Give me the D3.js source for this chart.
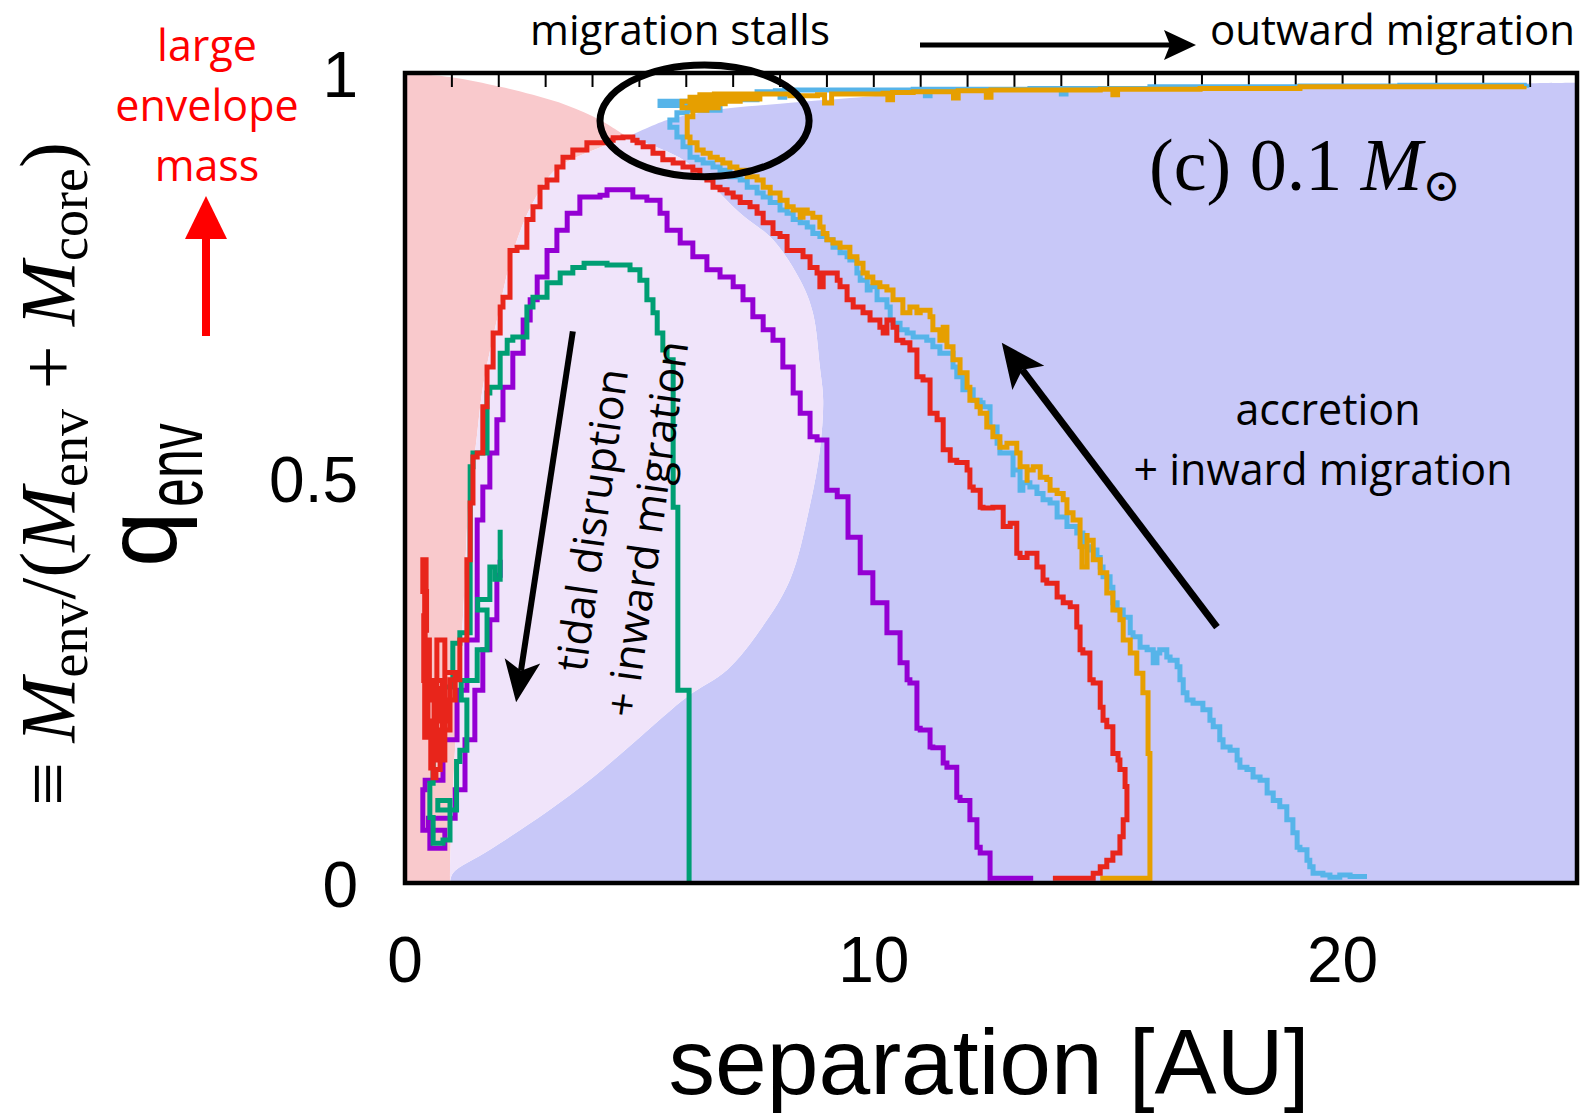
<!DOCTYPE html>
<html>
<head>
<meta charset="utf-8">
<script src="https://cdn.jsdelivr.net/npm/d3@7"></script>
<style>
  body { margin: 0; background: #fff; }
  svg { display: block; }
</style>
</head>
<body>
<svg id="chart" width="1595" height="1117"></svg>
<script>
// ---- axes -------------------------------------------------------------
const xDomain = [0, 25];
const yDomain = [0, 1];
const xTickValues = [0, 10, 20];
const xTickLabels = ["0", "10", "20"];
const yTickValues = [0, 0.5, 1];
const yTickLabels = ["0", "0.5", "1"];
const topTickValues = [1, 2, 3, 4, 5, 6, 7, 8, 9, 10, 11, 12, 13, 14, 15, 16, 17, 18, 19, 20, 21, 22, 23, 24];

// ---- background regions: boundaries in [separation AU, q_env] ------------
// upper edge of the tidally limited (pink) zone
const pinkTopEdge = [[0, 1], [0.96, 0.995], [2.03, 0.983], [2.73, 0.973], [3.46, 0.960], [4.16, 0.942], [4.74, 0.921]];
// boundary between pink zone and the light lavender bubble
const lavenderLeftEdge = [[4.74, 0.921], [4.16, 0.908], [3.24, 0.882], [2.73, 0.840], [2.30, 0.778], [1.96, 0.695], [1.66, 0.612], [1.49, 0.531], [1.39, 0.498], [1.24, 0.333], [1.07, 0.168], [1.00, 0.086], [0.96, 0.016], [0.96, 0]];
// boundary between lavender bubble and the accretion (blue) zone
const lavenderRightEdge = [[4.74, 0.921], [5.93, 0.893], [7.15, 0.827], [7.85, 0.794], [8.43, 0.744], [8.70, 0.704], [8.85, 0.637], [8.92, 0.596], [8.85, 0.535], [8.64, 0.467], [8.21, 0.374], [7.57, 0.312], [6.87, 0.263], [6.02, 0.230], [5.01, 0.180], [4.00, 0.130], [3.03, 0.088], [1.81, 0.041], [1.02, 0.012], [0.96, 0]];
// upper edge of the accretion zone
const blueTopEdge = [[4.74, 0.921], [5.59, 0.942], [6.29, 0.951], [7.00, 0.957], [8.00, 0.962], [9.49, 0.969], [10.84, 0.975], [13.33, 0.980], [16.96, 0.984], [21.22, 0.986], [25, 0.988]];

// ---- planet tracks [separation AU, q_env] --------------------------------
const greenTrack = [[6.06, 0], [6.06, 0.238], [5.82, 0.238], [5.82, 0.464], [5.72, 0.464], [5.72, 0.646], [5.59, 0.658], [5.50, 0.679], [5.38, 0.704], [5.29, 0.720], [5.16, 0.744], [5.01, 0.757], [4.80, 0.763], [4.31, 0.765], [3.82, 0.760], [3.58, 0.753], [3.31, 0.741], [3.03, 0.723], [2.73, 0.711], [2.60, 0.674], [2.30, 0.670], [2.18, 0.654], [2.03, 0.612], [1.81, 0.605], [1.75, 0.531], [1.45, 0.514], [1.39, 0.473], [1.39, 0.309], [1.17, 0.296], [1.02, 0.242], [0.81, 0.185], [0.60, 0.123], [0.53, 0.081], [0.60, 0.049], [0.81, 0.053], [0.96, 0.102], [0.70, 0.090], [1.10, 0.150], [1.17, 0.164], [1.32, 0.226], [1.20, 0.250], [1.54, 0.288], [1.75, 0.337], [1.55, 0.350], [1.81, 0.390], [1.92, 0.375], [2.03, 0.436]];

const purpleTrack = [[13.40, 0.006], [12.54, 0.006], [12.48, 0.037], [12.27, 0.044], [12.20, 0.078], [12.05, 0.102], [11.84, 0.106], [11.77, 0.143], [11.56, 0.148], [11.48, 0.167], [11.26, 0.168], [11.20, 0.189], [10.99, 0.191], [10.92, 0.247], [10.77, 0.251], [10.71, 0.272], [10.56, 0.275], [10.56, 0.309], [10.28, 0.346], [9.98, 0.383], [9.71, 0.427], [9.45, 0.477], [9.22, 0.485], [9.00, 0.547], [8.79, 0.551], [8.64, 0.580], [8.43, 0.605], [8.28, 0.637], [8.06, 0.670], [7.85, 0.683], [7.64, 0.699], [7.42, 0.720], [7.21, 0.736], [7.00, 0.748], [6.72, 0.757], [6.44, 0.773], [6.14, 0.790], [5.87, 0.806], [5.59, 0.827], [5.44, 0.843], [5.16, 0.847], [4.86, 0.856], [4.59, 0.856], [4.31, 0.849], [4.16, 0.847], [3.73, 0.827], [3.46, 0.806], [3.24, 0.781], [3.03, 0.748], [2.82, 0.720], [2.67, 0.695], [2.52, 0.654], [2.30, 0.612], [2.09, 0.572], [1.96, 0.531], [1.81, 0.489], [1.66, 0.448], [1.54, 0.390], [1.54, 0.300], [1.32, 0.238], [1.11, 0.177], [0.81, 0.127], [0.43, 0.115], [0.38, 0.065], [0.53, 0.043], [0.85, 0.065], [0.50, 0.080], [1.07, 0.115], [1.28, 0.177], [1.49, 0.238], [1.66, 0.288], [1.81, 0.325], [1.96, 0.380], [2.03, 0.399]];

const redTrack = [[13.82, 0.006], [14.61, 0.006], [14.68, 0.012], [14.83, 0.020], [14.97, 0.028], [15.10, 0.037], [15.25, 0.057], [15.32, 0.078], [15.40, 0.119], [15.36, 0.140], [15.25, 0.152], [15.21, 0.160], [15.10, 0.193], [14.97, 0.201], [14.89, 0.217], [14.83, 0.247], [14.68, 0.251], [14.61, 0.284], [14.46, 0.288], [14.40, 0.316], [14.33, 0.341], [14.19, 0.346], [14.04, 0.353], [13.91, 0.370], [13.69, 0.374], [13.61, 0.390], [13.48, 0.407], [13.27, 0.402], [13.12, 0.407], [13.05, 0.444], [12.91, 0.440], [12.76, 0.464], [12.54, 0.463], [12.33, 0.464], [12.27, 0.485], [12.12, 0.489], [12.05, 0.510], [11.99, 0.519], [11.77, 0.522], [11.63, 0.535], [11.48, 0.538], [11.48, 0.572], [11.35, 0.580], [11.20, 0.621], [11.05, 0.625], [10.92, 0.658], [10.77, 0.667], [10.62, 0.670], [10.49, 0.686], [10.41, 0.695], [10.28, 0.679], [10.20, 0.686], [10.13, 0.695], [9.92, 0.704], [9.77, 0.711], [9.56, 0.720], [9.43, 0.736], [9.28, 0.744], [9.22, 0.753], [9.00, 0.753], [8.92, 0.736], [8.85, 0.753], [8.79, 0.760], [8.64, 0.773], [8.49, 0.781], [8.36, 0.781], [8.15, 0.798], [8.00, 0.802], [7.85, 0.815], [7.72, 0.815], [7.64, 0.827], [7.51, 0.835], [7.36, 0.840], [7.15, 0.847], [7.00, 0.852], [6.87, 0.856], [6.72, 0.859], [6.57, 0.868], [6.44, 0.872], [6.29, 0.880], [6.14, 0.884], [5.93, 0.889], [5.72, 0.893], [5.50, 0.901], [5.29, 0.909], [5.08, 0.914], [4.95, 0.917], [4.86, 0.921], [4.65, 0.920], [4.44, 0.917], [4.31, 0.914], [3.88, 0.905], [3.58, 0.896], [3.37, 0.884], [3.24, 0.868], [3.03, 0.859], [2.88, 0.835], [2.73, 0.819], [2.60, 0.785], [2.39, 0.781], [2.24, 0.723], [2.09, 0.711], [2.03, 0.679], [1.88, 0.637], [1.75, 0.588], [1.66, 0.531], [1.54, 0.526], [1.45, 0.469], [1.39, 0.399], [1.32, 0.300], [1.17, 0.251], [0.96, 0.189], [0.75, 0.140], [0.66, 0.130], [0.60, 0.180], [0.72, 0.160], [0.62, 0.250], [0.80, 0.170], [0.68, 0.300], [0.85, 0.240], [0.75, 0.200], [0.92, 0.226], [1.07, 0.260], [0.90, 0.260], [0.85, 0.152], [0.70, 0.170], [0.58, 0.142], [0.55, 0.200], [0.49, 0.226], [0.52, 0.300], [0.43, 0.312], [0.46, 0.360], [0.38, 0.399], [0.45, 0.330], [0.40, 0.250], [0.48, 0.180], [0.42, 0.400]];

const orangeTrack = [[14.83, 0.006], [15.83, 0.006], [15.89, 0.020], [15.89, 0.160], [15.85, 0.235], [15.74, 0.259], [15.61, 0.284], [15.47, 0.300], [15.32, 0.325], [15.25, 0.337], [15.10, 0.358], [14.97, 0.383], [14.83, 0.399], [14.68, 0.423], [14.55, 0.432], [14.55, 0.390], [14.44, 0.415], [14.40, 0.448], [14.25, 0.457], [14.12, 0.473], [14.04, 0.481], [13.91, 0.485], [13.76, 0.498], [13.69, 0.501], [13.55, 0.514], [13.40, 0.510], [13.27, 0.494], [13.27, 0.514], [13.12, 0.531], [13.05, 0.543], [12.84, 0.538], [12.69, 0.551], [12.54, 0.563], [12.41, 0.580], [12.27, 0.588], [12.20, 0.596], [12.05, 0.612], [11.99, 0.630], [11.84, 0.646], [11.69, 0.662], [11.56, 0.686], [11.48, 0.670], [11.41, 0.683], [11.26, 0.699], [11.20, 0.707], [10.99, 0.704], [10.92, 0.711], [10.77, 0.704], [10.62, 0.720], [10.41, 0.732], [10.28, 0.736], [10.13, 0.741], [9.98, 0.748], [9.86, 0.753], [9.77, 0.765], [9.64, 0.773], [9.49, 0.785], [9.28, 0.790], [9.13, 0.794], [9.00, 0.802], [8.92, 0.810], [8.85, 0.822], [8.70, 0.827], [8.58, 0.831], [8.49, 0.822], [8.43, 0.831], [8.28, 0.835], [8.15, 0.843], [8.00, 0.852], [7.79, 0.859], [7.64, 0.868], [7.51, 0.872], [7.30, 0.880], [7.08, 0.884], [6.93, 0.889], [6.78, 0.893], [6.66, 0.896], [6.51, 0.901], [6.36, 0.905], [6.23, 0.914], [6.08, 0.921], [6.02, 0.933], [6.02, 0.946], [6.14, 0.954], [6.44, 0.958], [6.68, 0.957], [5.91, 0.965], [6.83, 0.962], [6.08, 0.970], [7.15, 0.965], [6.29, 0.973], [7.57, 0.968], [6.60, 0.974], [8.21, 0.972], [8.80, 0.973], [8.95, 0.963], [9.10, 0.974], [9.49, 0.974], [10.20, 0.975], [10.30, 0.967], [10.40, 0.976], [10.84, 0.977], [11.60, 0.977], [11.70, 0.969], [11.80, 0.978], [12.30, 0.978], [12.40, 0.970], [12.50, 0.979], [13.33, 0.979], [14.83, 0.980], [15.10, 0.973], [15.20, 0.980], [16.96, 0.981], [19.09, 0.983], [21.22, 0.983], [23.87, 0.984]];

const cyanTrack = [[20.52, 0.008], [20.16, 0.010], [19.94, 0.007], [19.73, 0.010], [19.58, 0.012], [19.37, 0.020], [19.30, 0.028], [19.24, 0.041], [19.09, 0.044], [19.03, 0.062], [18.94, 0.078], [18.81, 0.094], [18.66, 0.102], [18.52, 0.111], [18.39, 0.127], [18.24, 0.131], [18.09, 0.140], [17.96, 0.143], [17.81, 0.152], [17.75, 0.164], [17.60, 0.168], [17.45, 0.177], [17.38, 0.193], [17.24, 0.201], [17.17, 0.214], [17.02, 0.222], [16.81, 0.226], [16.68, 0.235], [16.60, 0.251], [16.53, 0.267], [16.47, 0.275], [16.32, 0.279], [16.25, 0.288], [16.10, 0.284], [16.04, 0.272], [15.96, 0.288], [15.83, 0.291], [15.68, 0.304], [15.53, 0.309], [15.47, 0.328], [15.32, 0.337], [15.19, 0.346], [15.10, 0.365], [15.04, 0.378], [14.89, 0.390], [14.83, 0.402], [14.76, 0.411], [14.61, 0.415], [14.46, 0.432], [14.33, 0.440], [14.19, 0.440], [14.12, 0.452], [13.97, 0.452], [13.91, 0.469], [13.76, 0.473], [13.61, 0.481], [13.48, 0.489], [13.33, 0.494], [13.18, 0.485], [13.12, 0.510], [12.97, 0.501], [12.97, 0.531], [12.84, 0.531], [12.69, 0.543], [12.63, 0.563], [12.48, 0.588], [12.33, 0.593], [12.27, 0.596], [12.12, 0.609], [11.99, 0.609], [11.90, 0.625], [11.77, 0.637], [11.69, 0.654], [11.56, 0.654], [11.41, 0.662], [11.26, 0.670], [11.13, 0.674], [10.99, 0.674], [10.84, 0.679], [10.71, 0.683], [10.56, 0.691], [10.41, 0.695], [10.35, 0.711], [10.28, 0.720], [10.13, 0.720], [10.07, 0.736], [9.92, 0.732], [9.86, 0.744], [9.71, 0.753], [9.64, 0.769], [9.49, 0.773], [9.43, 0.778], [9.28, 0.785], [9.13, 0.794], [9.00, 0.798], [8.85, 0.802], [8.70, 0.810], [8.58, 0.815], [8.43, 0.819], [8.28, 0.827], [8.15, 0.831], [8.00, 0.840], [7.79, 0.847], [7.64, 0.852], [7.51, 0.859], [7.30, 0.868], [7.15, 0.872], [6.93, 0.880], [6.72, 0.884], [6.57, 0.889], [6.36, 0.893], [6.23, 0.896], [6.08, 0.909], [5.93, 0.921], [5.80, 0.933], [5.65, 0.942], [5.80, 0.951], [6.02, 0.954], [6.72, 0.960], [5.44, 0.965], [6.29, 0.967], [7.51, 0.977], [7.90, 0.978], [8.00, 0.970], [8.10, 0.979], [8.36, 0.979], [9.49, 0.979], [10.84, 0.980], [11.10, 0.972], [11.20, 0.980], [13.33, 0.981], [14.00, 0.974], [14.10, 0.981], [15.89, 0.983], [19.09, 0.984], [21.22, 0.985], [23.93, 0.986]];

const tracks = [
  { name: "purple", data: purpleTrack, color: "#9400d3" },
  { name: "green",  data: greenTrack,  color: "#009e73" },
  { name: "cyan",   data: cyanTrack,   color: "#56b4e9" },
  { name: "orange", data: orangeTrack, color: "#e69f00" },
  { name: "red",    data: redTrack,    color: "#e8251b" }
];

// ---- layout ---------------------------------------------------------------
const svg = d3.select("#chart");
const plot = { left: 405, top: 73, right: 1577, bottom: 883 };
const x = d3.scaleLinear().domain(xDomain).range([plot.left, plot.right]);
const y = d3.scaleLinear().domain(yDomain).range([plot.bottom, plot.top]);

svg.append("defs").append("clipPath").attr("id", "plotClip")
  .append("rect")
  .attr("x", plot.left).attr("y", plot.top)
  .attr("width", plot.right - plot.left).attr("height", plot.bottom - plot.top);

const area = svg.append("g").attr("clip-path", "url(#plotClip)");

// smooth boundary edges, joined into closed outlines with sharp corners
const smoothEdge = d3.line().x(d => x(d[0])).y(d => y(d[1])).curve(d3.curveCatmullRom.alpha(0.5));
const edge = (pts, first) => first ? smoothEdge(pts) : smoothEdge(pts).replace(/^M/, "L");
const rev = a => a.slice().reverse();

const blueD = edge(blueTopEdge, true) + `L${x(25)},${y(0)}` + edge(rev(lavenderRightEdge)) + "Z";
const pinkD = `M${x(0)},${y(0)}` + edge(pinkTopEdge) + edge(lavenderLeftEdge) + "Z";
const lavenderD = edge(lavenderLeftEdge, true) + edge(rev(lavenderRightEdge)) + "Z";

area.append("path").attr("d", blueD).attr("fill", "#c8c8f8");
area.append("path").attr("d", pinkD).attr("fill", "#f9c9cc");
area.append("path").attr("d", lavenderD).attr("fill", "#f0e4fa");

// minor ticks along the top edge
area.selectAll("line.topTick").data(topTickValues).join("line")
  .attr("class", "topTick")
  .attr("x1", d => x(d)).attr("x2", d => x(d))
  .attr("y1", plot.top).attr("y2", plot.top + 14)
  .attr("stroke", "#000").attr("stroke-width", 2);

// planet tracks
const trackLine = d3.line().x(d => x(d[0])).y(d => y(d[1])).curve(d3.curveStepAfter);
area.selectAll("path.track").data(tracks).join("path")
  .attr("class", "track")
  .attr("d", d => trackLine(d.data))
  .attr("fill", "none")
  .attr("stroke", d => d.color)
  .attr("stroke-width", 5)
  .attr("stroke-linejoin", "miter");

// "migration stalls" ellipse
svg.append("ellipse")
  .attr("cx", x(6.39)).attr("cy", y(0.941))
  .attr("rx", x(2.23) - x(0)).attr("ry", y(0) - y(0.069))
  .attr("fill", "none").attr("stroke", "#000").attr("stroke-width", 7);

// frame
svg.append("rect")
  .attr("x", plot.left).attr("y", plot.top)
  .attr("width", plot.right - plot.left).attr("height", plot.bottom - plot.top)
  .attr("fill", "none").attr("stroke", "#000").attr("stroke-width", 4.5);

// tick labels
const tickFont = "'Liberation Sans', Arial, sans-serif";
svg.selectAll("text.xtick").data(xTickValues).join("text")
  .attr("class", "xtick")
  .attr("x", d => x(d)).attr("y", 982)
  .attr("text-anchor", "middle")
  .attr("font-family", tickFont).attr("font-size", 64)
  .text((d, i) => xTickLabels[i]);

svg.selectAll("text.ytick").data(yTickValues).join("text")
  .attr("class", "ytick")
  .attr("x", 358).attr("y", d => y(d) + 24)
  .attr("text-anchor", "end")
  .attr("font-family", tickFont).attr("font-size", 64)
  .text((d, i) => yTickLabels[i]);

// axis titles
svg.append("text")
  .attr("x", 989).attr("y", 1094)
  .attr("text-anchor", "middle")
  .attr("font-family", tickFont).attr("font-size", 93)
  .text("separation [AU]");

svg.append("text")
  .attr("transform", "translate(176,567) rotate(-90)")
  .attr("font-family", tickFont).attr("font-size", 100)
  .text("q");
svg.append("text")
  .attr("transform", "translate(202,507) rotate(-90) scale(0.65,1)")
  .attr("font-family", tickFont).attr("font-size", 80)
  .text("env");

function addRuns(sel, runs) {
  runs.forEach(r => {
    const t = sel.append("tspan").text(r.t);
    if (r.italic) t.attr("font-style", "italic");
    if (r.size) t.attr("font-size", r.size);
    if (r.dy) t.attr("dy", r.dy);
  });
}

const serif = "'Liberation Serif', 'DejaVu Serif', serif";
const yDef = svg.append("text")
  .attr("transform", "translate(74,474) rotate(-90)")
  .attr("text-anchor", "middle")
  .attr("font-family", serif).attr("font-size", 78);
addRuns(yDef, [
  { t: "\u2261 " }, { t: "M", italic: true }, { t: "env", size: 54, dy: 13 },
  { t: "/(", dy: -13 }, { t: "M", italic: true }, { t: "env", size: 54, dy: 13 },
  { t: " + ", dy: -13 }, { t: "M", italic: true }, { t: "core", size: 54, dy: 13 },
  { t: ")", dy: -13 }
]);

// panel label
const panel = svg.append("text")
  .attr("x", 1149).attr("y", 190)
  .attr("font-family", serif).attr("font-size", 74);
addRuns(panel, [
  { t: "(c) 0.1 " }, { t: "M", italic: true }, { t: "\u2299", size: 46, dy: 11 }
]);

// annotations
const sansAnno = "'Open Sans', sans-serif";
function label(txt, px, py, opts = {}) {
  return svg.append("text")
    .attr("x", px).attr("y", py)
    .attr("text-anchor", opts.anchor || "middle")
    .attr("font-family", sansAnno).attr("font-size", opts.size || 43)
    .attr("fill", opts.color || "#000")
    .text(txt);
}
label("migration stalls", 680, 45, { size: 42 });
label("outward migration", 1210, 45, { anchor: "start", size: 42 });
label("large", 207, 61, { color: "#ff0000" });
label("envelope", 207, 121, { color: "#ff0000" });
label("mass", 207, 181, { color: "#ff0000" });
label("accretion", 1328, 425);
label("+ inward migration", 1323, 485);

svg.append("text")
  .attr("transform", "translate(607,522) rotate(-82)")
  .attr("text-anchor", "middle")
  .attr("font-family", sansAnno).attr("font-size", 43)
  .text("tidal disruption");
svg.append("text")
  .attr("transform", "translate(662,531) rotate(-82)")
  .attr("text-anchor", "middle")
  .attr("font-family", sansAnno).attr("font-size", 43)
  .text("+ inward migration");

// arrows
function arrow(x1, y1, x2, y2, o) {
  const ang = Math.atan2(y2 - y1, x2 - x1);
  const ux = Math.cos(ang), uy = Math.sin(ang);
  const nx = -uy, ny = ux;
  const bx = x2 - ux * o.head, by = y2 - uy * o.head;
  const kx = x2 - ux * o.notch, ky = y2 - uy * o.notch;
  svg.append("line")
    .attr("x1", x1).attr("y1", y1).attr("x2", kx).attr("y2", ky)
    .attr("stroke", o.color).attr("stroke-width", o.width);
  svg.append("path")
    .attr("d", `M${x2},${y2}L${bx + nx * o.half},${by + ny * o.half}L${kx},${ky}L${bx - nx * o.half},${by - ny * o.half}Z`)
    .attr("fill", o.color);
}
arrow(920, 45, 1196, 45, { color: "#000", width: 5, head: 32, notch: 26, half: 15 });
arrow(206, 336, 206, 196, { color: "#ff0000", width: 8, head: 43, notch: 43, half: 21 });
arrow(x(17.32), y(0.316), x(12.73), y(0.667), { color: "#000", width: 7, head: 44, notch: 34, half: 20 });
arrow(x(3.58), y(0.681), x(2.37), y(0.223), { color: "#000", width: 6, head: 42, notch: 32, half: 18 });
</script>
</body>
</html>
